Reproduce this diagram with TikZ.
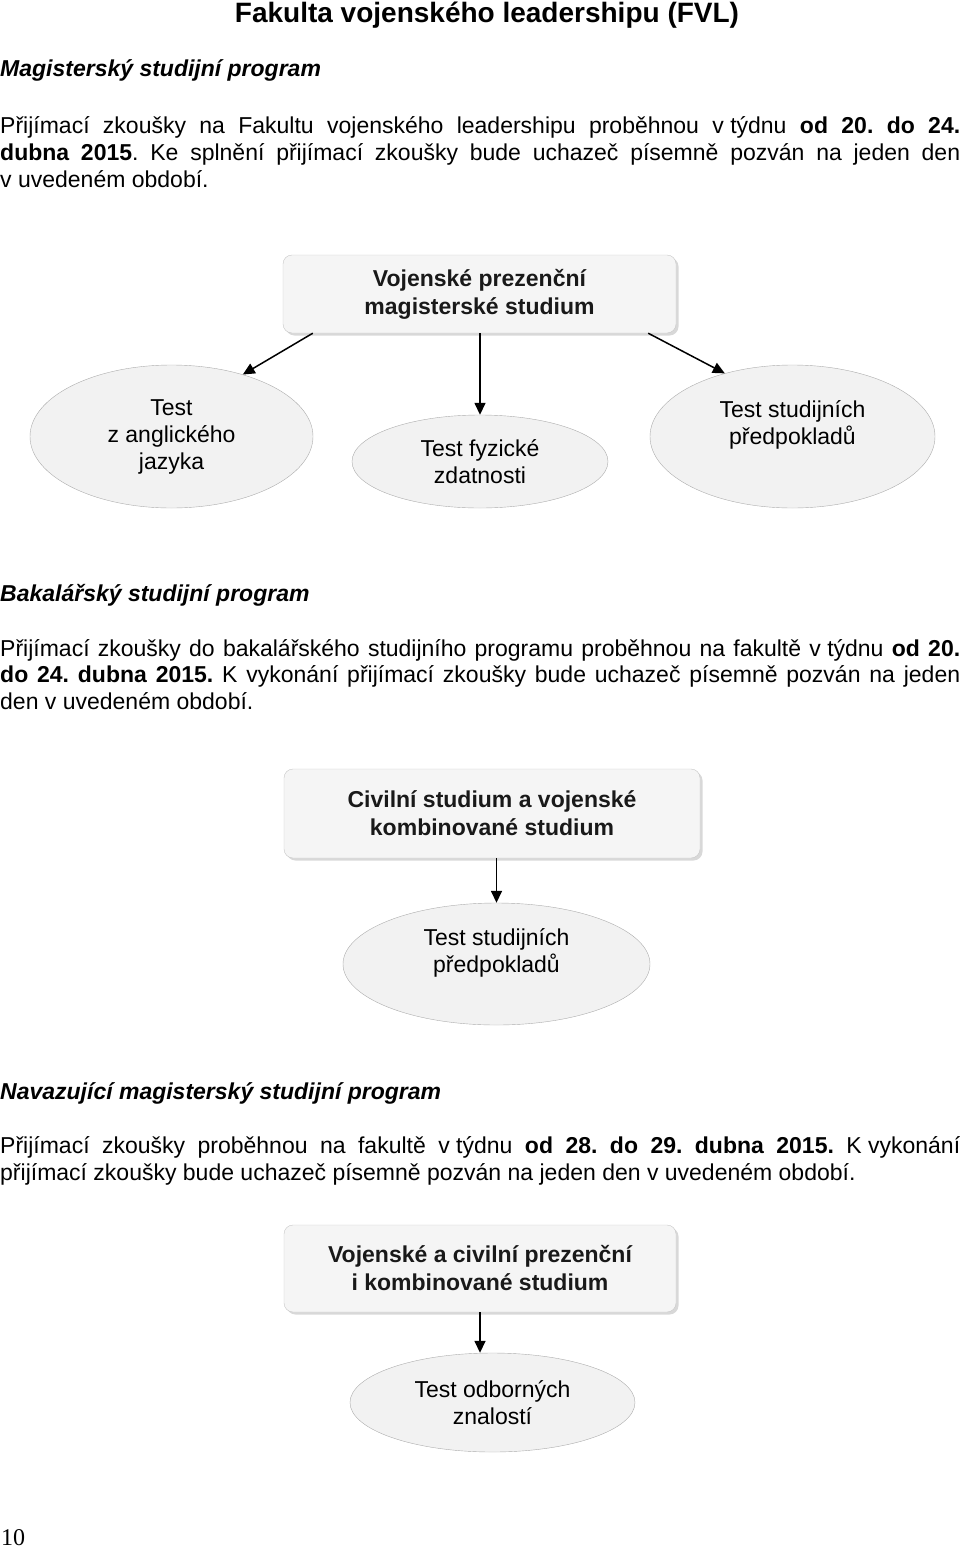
\documentclass[tikz,border=0pt]{standalone}
\usepackage{fontspec}
\setmainfont{Liberation Sans}
\newfontfamily\serifnum{Liberation Serif}
\usepackage{tikz}
\usetikzlibrary{arrows.meta}
\usetikzlibrary{shapes.geometric}
\usetikzlibrary{shadows}
\frenchspacing
\newcommand{\widthtext}{960pt}
\newcommand{\fsp}{\kern.278em}
\newcommand{\just}[1]{\makebox[\widthtext][s]{#1}}
\tikzset{
    common/.style={anchor=west, inner sep=0pt, text height=17pt, text depth=5pt},
    textline/.style={common, font=\fontsize{23}{27}\selectfont},
    progtitle/.style={common, font=\fontsize{23}{27}\selectfont\bfseries\itshape},
    studybox/.style={draw=gray!45, fill=gray!8, rounded corners=9pt, align=center,
        font=\fontsize{23}{28}\selectfont\bfseries, text=black!90,
        drop shadow={shadow xshift=2.5pt, shadow yshift=-2.5pt, fill=gray!60}},
    testellipse/.style={ellipse, draw=gray!65, fill=gray!10, align=center, inner sep=0pt,
        font=\fontsize{23}{27}\selectfont},
    link/.style={line width=1.5pt}
}

\begin{document}
\begin{tikzpicture}[x=1pt, y=-1pt, >={Triangle[length=12pt, width=11pt]}]
          \useasboundingbox (0,0) rectangle (960,1550);

          \path
              (487,15) node[font=\fontsize{28}{32}\selectfont\bfseries] (fvl) {Fakulta vojenského leadershipu (FVL)}
              (0,70) node[progtitle] (mag) {Magisterský studijní program}
              (0,127) node[textline] (mag-1) {\just{Přijímací zkoušky na Fakultu vojenského leadershipu proběhnou v\fsp týdnu \textbf{od 20. do 24.}}}
              (0,154) node[textline] (mag-2) {\just{\textbf{dubna 2015}. Ke splnění přijímací zkoušky bude uchazeč písemně pozván na jeden den}}
              (0,181) node[textline] (mag-3) {v uvedeném období.};

          \path
              (479.5,294) node[studybox, minimum width=393pt, minimum height=78pt] (vps) {Vojenské prezenční\\magisterské studium}
              (171.5,436.5) node[testellipse, minimum width=283pt, minimum height=143pt] (eng) {Test\\z anglického\\jazyka}
              (480,461.5) node[testellipse, minimum width=256pt, minimum height=93pt] (fyz) {Test fyzické\\zdatnosti}
              (792.5,436.5) node[testellipse, minimum width=285pt, minimum height=143pt] (tsp-m) {Test studijních\\předpokladů\\\mbox{}};

          \draw[->, link] ([xshift=30pt]vps.south west) -- (eng.41);
          \draw[->, link] (vps.south -| fyz.north) -- (fyz.north);
          \draw[->, link] ([xshift=-28pt]vps.south east) -- (tsp-m.137);

          \path
              (0,595) node[progtitle] (bak) {Bakalářský studijní program}
              (0,650) node[textline] (bak-1) {\just{Přijímací zkoušky do bakalářského studijního programu proběhnou na fakultě v\fsp týdnu \textbf{od 20.}}}
              (0,676) node[textline] (bak-2) {\just{\textbf{do 24. dubna 2015.} K vykonání přijímací zkoušky bude uchazeč písemně pozván na jeden}}
              (0,703) node[textline] (bak-3) {den v uvedeném období.};

          \path
              (492,813.5) node[studybox, minimum width=416pt, minimum height=89pt] (civ) {Civilní studium a vojenské\\kombinované studium}
              (496.5,964) node[testellipse, minimum width=307pt, minimum height=122pt] (tsp-b) {Test studijních\\předpokladů\\\mbox{}};

          \draw[->, link] (civ.south -| tsp-b.north) -- (tsp-b.north);

          \path
              (0,1093) node[progtitle] (nav) {Navazující magisterský studijní program}
              (0,1147) node[textline] (nav-1) {\just{Přijímací zkoušky proběhnou na fakultě v\fsp týdnu \textbf{od 28. do 29. dubna 2015.} K\fsp vykonání}}
              (0,1174) node[textline] (nav-2) {přijímací zkoušky bude uchazeč písemně pozván na jeden den v uvedeném období.};

          \path
              (480,1268.5) node[studybox, minimum width=392pt, minimum height=87pt] (vak) {Vojenské a civilní prezenční\\i kombinované studium}
              (492.5,1402.5) node[testellipse, minimum width=285pt, minimum height=99pt] (odb) {Test odborných\\znalostí};

          \draw[->, link] (vak.south) -- (vak.south |- odb.north);

          \path (1,1538) node[anchor=west, inner sep=0pt, font=\serifnum\fontsize{24}{28}\selectfont] (page) {10};
        \end{tikzpicture}
\end{document}
